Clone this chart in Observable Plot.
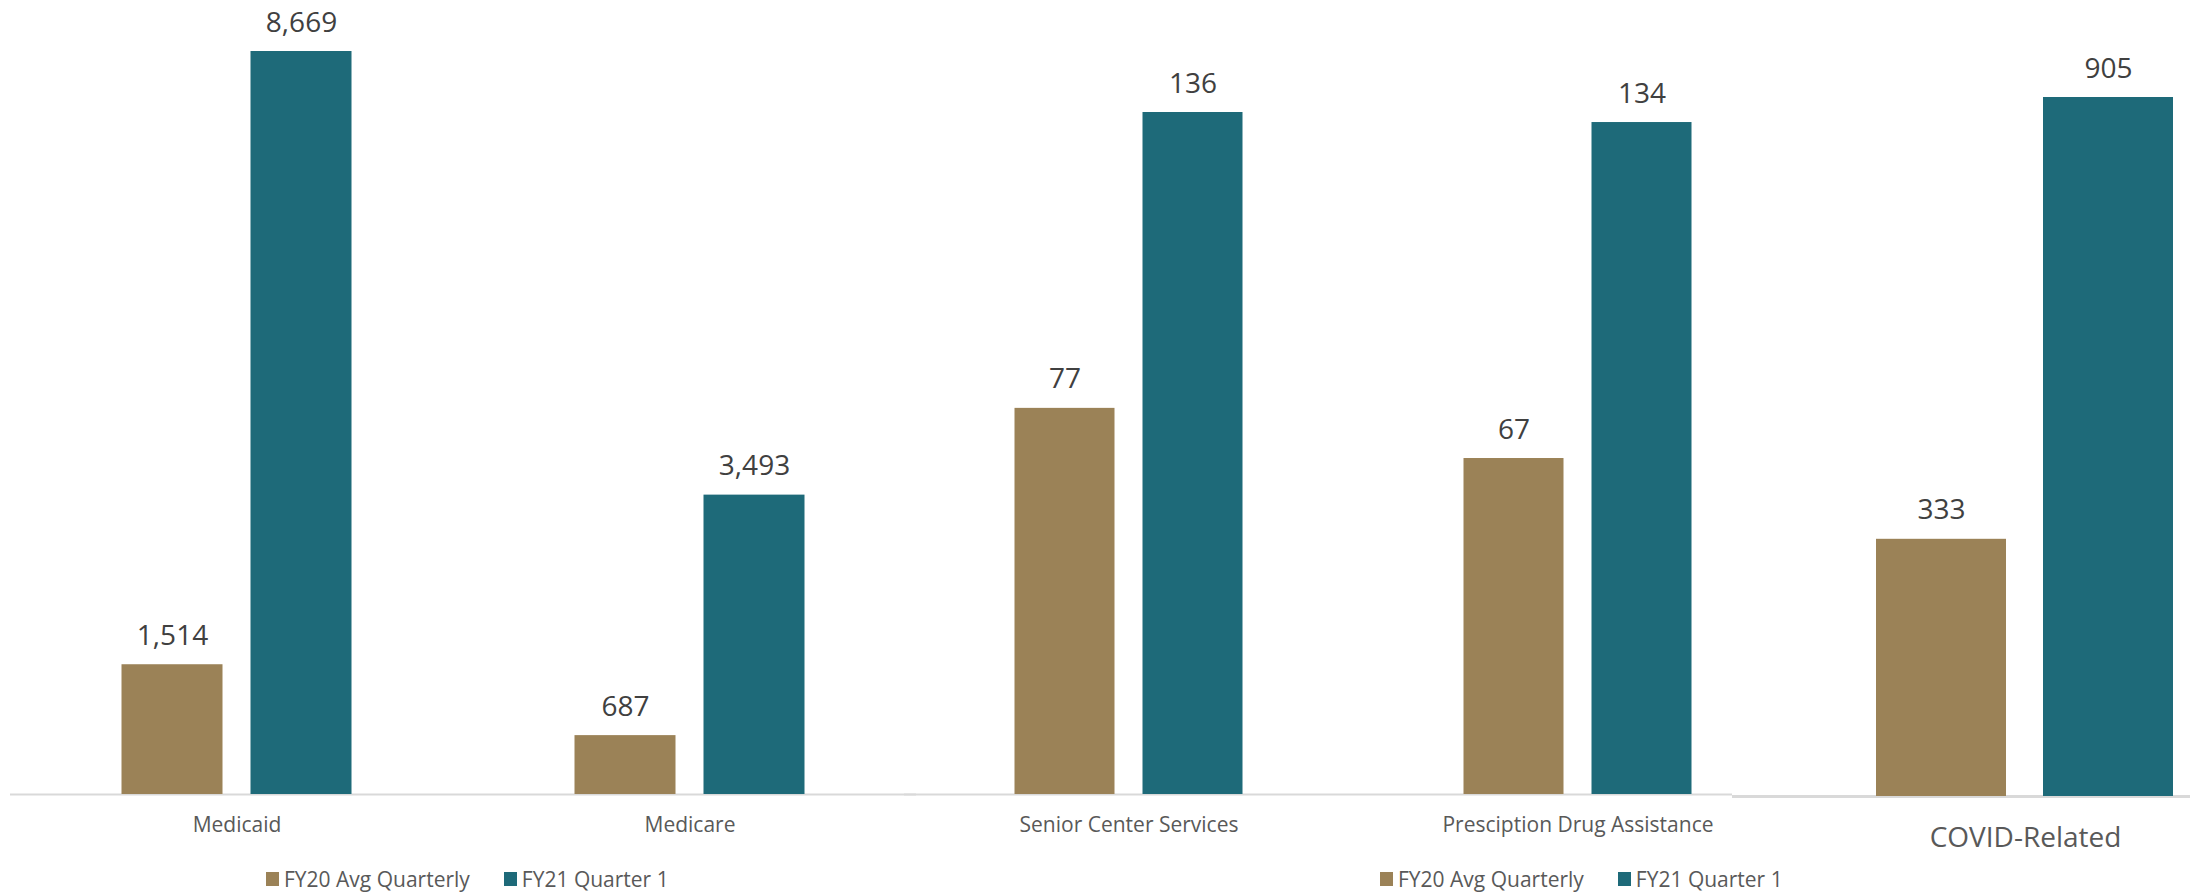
<!DOCTYPE html>
<html>
<head>
<meta charset="utf-8">
<script src="https://cdn.jsdelivr.net/npm/d3@7"></script>
<script src="https://cdn.jsdelivr.net/npm/@observablehq/plot@0.6"></script>
<style>
  html, body { margin: 0; padding: 0; background: #ffffff; }
  #wrap { position: relative; width: 2190px; height: 892px; overflow: hidden; background: #ffffff; font-family: "Open Sans", sans-serif; }
  .panel { position: absolute; top: 0; }
  .legend { position: absolute; top: 865px; display: flex; align-items: center; font-size: 21px; color: #595959; z-index: 10; white-space: nowrap; }
  .legend .item { display: flex; align-items: center; }
  .legend .sw { width: 13px; height: 14px; margin-right: 5px; }
</style>
</head>
<body>
<div id="wrap"></div>
<script>
// ---- data ----
const categories = ["Medicaid", "Medicare", "Senior Center Services", "Presciption Drug Assistance", "COVID-Related"];
const series = ["FY20 Avg Quarterly", "FY21 Quarter 1"];
const fy20Values = [1514, 687, 77, 67, 333];
const fy21Values = [8669, 3493, 136, 134, 905];
const seriesColors = ["#9b8257", "#1e6a79"];

// which categories share one chart (each chart has its own value scale)
const panelGroups = [[0, 1], [2, 3], [4]];

// ---- layout of each chart panel ----
const panels = [
  {left: 0,      width: 925, marginLeft: 9.5,  marginRight: 9.5,  marginTop: 51,  marginBottom: 98, labelSize: 21, labelDy: 23, ruleWidth: 2, bg: "transparent"},
  {left: 880,    width: 940, marginLeft: 23.5, marginRight: 18.5, marginTop: 112, marginBottom: 98, labelSize: 21, labelDy: 23, ruleWidth: 2, bg: "transparent"},
  {left: 1731.5, width: 586, marginLeft: 0,    marginRight: 0,    marginTop: 97,  marginBottom: 96, labelSize: 28, labelDy: 31, ruleWidth: 3, bg: "#ffffff"}
];
const legends = [{left: 266}, {left: 1380}];

const fmt = d3.format(",");
const wrap = document.getElementById("wrap");

panelGroups.forEach((idx, p) => {
  const cfg = panels[p];
  const cats = idx.map(i => categories[i]);
  const rows = [];
  idx.forEach(i => {
    rows.push({category: categories[i], series: series[0], value: fy20Values[i]});
    rows.push({category: categories[i], series: series[1], value: fy21Values[i]});
  });
  const ymax = d3.max(rows, d => d.value);
  const chart = Plot.plot({
    width: cfg.width,
    height: 892,
    marginLeft: cfg.marginLeft,
    marginRight: cfg.marginRight,
    marginTop: cfg.marginTop,
    marginBottom: cfg.marginBottom,
    style: {fontFamily: "'Open Sans', sans-serif", background: cfg.bg, overflow: "visible"},
    fx: {domain: cats, padding: 0, axis: null},
    x: {domain: series, paddingInner: 0.22, paddingOuter: 0.86, axis: null},
    y: {domain: [0, ymax], axis: null},
    color: {domain: series, range: seriesColors},
    marks: [
      Plot.ruleY([0], {stroke: "#d9d9d9", strokeWidth: cfg.ruleWidth}),
      Plot.barY(rows, {fx: "category", x: "series", y: "value", fill: "series"}),
      Plot.text(rows, {fx: "category", x: "series", y: "value", text: d => fmt(d.value),
        dy: -20, lineAnchor: "bottom", fontSize: 28, fill: "#404040"}),
      Plot.text(cats, {fx: d => d, text: d => d, frameAnchor: "bottom", dy: cfg.labelDy,
        lineAnchor: "top", fontSize: cfg.labelSize, fill: "#595959"})
    ]
  });
  chart.classList.add("panel");
  chart.style.position = "absolute";
  chart.style.left = cfg.left + "px";
  chart.style.top = "0px";
  chart.style.maxWidth = "none";
  wrap.appendChild(chart);
});

legends.forEach(lg => {
  const div = document.createElement("div");
  div.className = "legend";
  div.style.left = lg.left + "px";
  series.forEach((s, i) => {
    const item = document.createElement("div");
    item.className = "item";
    if (i > 0) item.style.marginLeft = "34px";
    const sw = document.createElement("span");
    sw.className = "sw";
    sw.style.background = seriesColors[i];
    const t = document.createElement("span");
    t.textContent = s;
    item.appendChild(sw);
    item.appendChild(t);
    div.appendChild(item);
  });
  wrap.appendChild(div);
});
</script>
</body>
</html>
